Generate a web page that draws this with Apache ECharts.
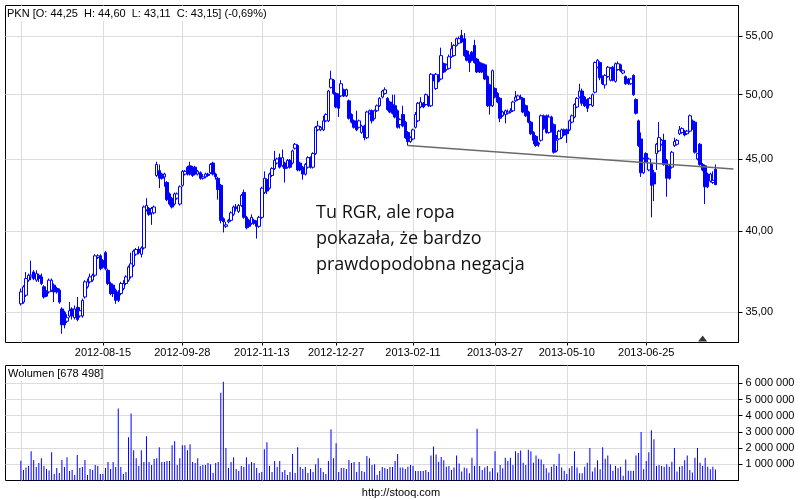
<!DOCTYPE html>
<html>
<head>
<meta charset="utf-8">
<script src="https://cdn.jsdelivr.net/npm/echarts@6/dist/echarts.min.js"></script>
<style>html,body{margin:0;padding:0;background:#fff}#c{width:800px;height:500px}</style>
</head>
<body>
<div id="c"></div>
<script>
// ---- categories: trading days of the Warsaw exchange shown on the axis ----
const axisFrom = '2012-06-22';
const axisTo = '2013-08-14';
const firstDataDate = '2012-07-02';
const holidays = ['2012-08-15','2012-11-01','2012-12-24','2012-12-25','2012-12-26','2012-12-31',
  '2013-01-01','2013-03-29','2013-04-01','2013-05-01','2013-05-03','2013-05-30'];

// ---- tick labels ----
const xTickLabels = ['2012-08-15','2012-09-28','2012-11-13','2012-12-27','2013-02-11','2013-03-27','2013-05-10','2013-06-25'];
const xGridOnly = ['2012-07-02'];
const priceTicks = [35, 40, 45, 50, 55];
const volumeTicks = [1, 2, 3, 4, 5, 6]; // millions

// ---- PKN daily candles [open, high, low, close] from 2012-07-02 ----
const ohlc = [
[35.5,36.4,35.4,36.2],[35.6,36.6,35.5,36.5],[36.0,37.4,35.9,37.0],[36.9,37.3,36.8,37.2],[37.1,38.1,36.9,37.2],
[37.4,37.5,36.9,37.0],[36.9,37.5,36.8,37.3],[37.2,37.3,36.8,37.0],[37.1,37.3,36.6,36.7],[36.5,36.6,35.8,35.9],
[36.2,36.3,35.9,35.95],[36.2,37.0,36.1,36.9],[36.3,37.0,36.2,36.9],[36.6,36.7,35.6,36.2],[36.4,36.5,36.1,36.2],
[36.3,36.4,35.5,35.6],[35.2,35.3,33.8,34.3],[35.0,35.1,34.1,34.3],[34.5,34.9,34.4,34.7],[34.8,35.6,34.7,35.1],
[35.2,35.3,34.6,34.8],[34.7,35.4,34.6,35.2],[35.3,35.9,34.5,34.6],[34.8,35.3,34.7,35.1],[34.8,35.8,34.7,35.7],
[35.9,36.9,35.8,36.8],[36.5,37.0,36.4,36.8],[36.8,37.3,36.7,37.1],[36.9,37.3,36.8,37.2],[37.2,38.5,37.1,38.4],
[38.3,38.5,38.2,38.4],[38.4,38.5,37.5,37.6],[38.1,38.2,37.6,37.7],[38.6,38.7,37.5,37.6],[37.5,37.6,36.6,36.7],
[36.7,36.8,36.0,36.1],[36.6,36.7,35.9,36.1],[36.3,36.4,35.5,35.7],[36.2,36.3,35.6,35.7],[36.1,36.8,36.0,36.7],
[36.4,36.9,36.3,36.7],[36.7,37.2,36.6,37.1],[36.9,37.8,36.8,37.7],[37.1,38.6,37.0,37.9],[37.8,38.8,37.7,38.7],
[38.5,38.9,38.4,38.8],[38.8,39.0,38.5,38.6],[38.5,39.0,38.3,38.9],[38.9,41.7,38.8,41.6],[41.4,42.2,41.3,41.7],
[41.5,41.6,41.0,41.1],[41.2,41.6,40.4,41.5],[41.2,41.7,41.1,41.6],[43.8,44.8,43.7,44.6],[44.15,44.6,42.9,43.6],
[43.9,44.0,43.5,43.6],[43.7,44.0,43.0,43.9],[43.3,43.4,42.0,42.1],[42.5,42.6,41.7,41.8],[42.2,42.3,41.5,41.6],
[41.8,42.6,41.7,42.5],[42.2,42.6,42.1,42.5],[41.8,43.1,41.7,43.0],[43.1,44.2,43.0,44.1],[43.9,44.2,43.8,44.1],
[44.4,44.5,43.8,43.9],[44.5,44.8,43.8,43.9],[44.4,44.5,43.7,43.8],[44.4,44.5,43.8,43.9],[43.9,44.2,43.8,44.1],
[44.0,44.1,43.5,43.6],[43.6,43.9,43.5,43.7],[43.7,44.0,43.6,43.9],[43.9,44.0,43.7,43.8],[44.0,44.7,43.9,44.6],
[44.7,44.8,43.8,43.9],[43.9,44.0,43.5,43.7],[43.6,43.7,42.1,42.8],[43.1,43.2,40.5,40.7],[40.8,40.9,39.9,40.6],
[40.3,40.6,40.2,40.4],[40.6,40.8,40.5,40.7],[40.7,41.3,40.6,41.2],[41.1,41.7,41.0,41.6],[41.6,41.8,41.3,41.5],
[41.3,41.8,41.2,41.7],[41.7,42.5,41.6,42.4],[42.6,42.8,40.8,40.9],[40.9,41.0,40.1,40.2],[40.7,40.8,40.2,40.3],
[40.5,41.1,40.4,40.9],[40.7,40.8,40.4,40.5],[40.6,40.7,39.5,40.3],[40.3,41.0,40.2,40.9],[40.9,43.0,40.8,42.9],
[42.6,44.1,42.5,43.6],[43.5,43.6,42.5,42.7],[42.9,44.0,42.8,43.9],[43.8,44.4,43.7,44.3],[44.3,45.6,44.2,44.9],
[44.7,45.1,44.6,45.0],[45.1,45.4,44.3,44.4],[44.5,45.7,44.4,45.1],[44.7,44.8,43.3,44.3],[44.4,45.0,44.3,44.9],
[44.9,45.0,44.3,44.4],[44.7,45.7,44.6,45.6],[45.8,46.2,45.7,46.1],[46.0,46.1,44.1,44.2],[44.7,44.8,44.1,44.2],
[44.4,44.5,43.5,43.9],[43.9,44.7,43.8,44.6],[44.4,45.2,44.3,45.1],[45.1,45.2,44.3,44.4],[44.4,45.5,44.3,45.4],
[45.4,47.5,45.3,47.4],[47.2,47.9,47.1,47.5],[47.2,47.5,47.1,47.4],[47.2,48.3,47.1,47.9],[47.9,48.5,47.8,48.4],
[47.9,50.4,47.8,50.3],[50.6,52.0,50.5,51.3],[51.2,51.3,50.0,50.1],[50.1,50.2,48.9,49.0],[50.0,50.1,48.2,48.9],
[49.9,51.2,49.8,50.9],[50.4,50.5,49.8,49.9],[49.9,50.5,49.8,50.4],[49.5,49.6,48.0,48.1],[48.4,48.5,47.7,47.8],
[47.9,48.0,47.3,47.4],[47.8,48.7,47.1,47.2],[47.4,48.0,47.3,47.9],[47.0,47.6,46.9,47.5],[47.5,47.6,46.4,46.6],
[46.6,48.7,46.5,48.6],[48.5,48.8,48.4,48.7],[48.7,48.8,47.7,47.9],[48.1,48.8,48.0,48.7],[48.7,49.2,48.6,49.1],
[49.1,49.8,49.0,49.7],[49.8,50.4,49.7,50.3],[50.1,50.6,50.0,50.4],[49.7,49.8,48.7,48.8],[49.4,49.5,48.5,48.6],
[49.2,50.0,48.4,48.5],[49.1,50.0,48.1,48.2],[48.7,48.8,47.3,47.4],[47.6,48.1,47.3,48.0],[48.4,49.1,47.4,47.5],
[47.8,47.9,46.5,46.6],[47.0,47.1,46.0,46.3],[46.3,46.7,46.2,46.6],[46.5,47.3,46.4,47.2],[47.4,48.6,47.3,48.4],
[47.9,49.4,47.8,49.3],[49.0,49.8,48.9,49.4],[49.3,49.4,48.9,49.0],[49.2,50.1,49.1,50.0],[49.8,49.9,49.0,49.1],
[49.1,51.8,49.0,51.7],[51.6,51.7,51.1,51.2],[50.5,51.8,50.4,51.7],[51.6,51.7,51.0,51.1],[51.3,54.0,51.2,53.3],
[52.6,52.7,51.8,51.9],[52.1,52.6,52.0,52.5],[52.2,53.4,52.1,53.2],[53.2,54.5,53.1,53.9],[53.3,54.3,53.2,54.2],
[54.2,54.9,54.1,54.8],[54.4,55.0,54.3,54.8],[55.1,55.6,54.4,54.5],[54.8,55.3,53.2,53.3],[53.7,53.8,52.8,52.9],
[53.3,53.4,51.9,52.7],[53.6,53.7,52.8,52.9],[54.2,54.7,52.6,52.7],[53.0,53.1,51.8,51.9],[52.7,52.8,51.8,51.9],
[52.6,52.7,51.8,51.9],[52.5,52.6,51.2,51.3],[51.5,51.6,49.0,49.1],[50.8,50.9,48.4,49.1],[49.1,52.1,49.0,52.0],
[50.5,50.6,49.7,49.8],[50.1,50.2,49.3,49.4],[49.7,49.8,47.8,48.1],[48.3,48.7,48.2,48.6],[48.4,48.8,47.7,48.7],
[48.5,48.8,48.4,48.6],[48.6,48.9,48.5,48.7],[48.7,49.5,48.6,49.4],[49.5,50.3,49.4,49.8],[49.6,50.0,49.5,49.9],
[49.8,50.0,49.6,49.7],[49.7,49.8,48.5,48.6],[49.1,49.2,48.2,48.3],[48.6,48.7,47.7,47.8],[47.8,47.9,46.8,46.9],
[47.0,47.1,46.1,46.4],[46.7,46.8,45.9,46.0],[46.2,46.3,45.9,46.1],[46.4,48.4,46.3,48.3],[48.3,48.4,47.2,47.3],
[48.3,48.4,46.9,47.0],[47.0,48.4,46.9,48.2],[48.2,48.3,47.0,47.1],[47.6,47.7,45.4,45.5],[45.6,46.8,45.5,46.4],
[46.5,47.2,46.4,47.1],[46.6,47.3,46.5,47.2],[47.2,47.3,46.7,46.8],[47.2,47.3,46.2,46.9],[47.2,48.0,47.1,47.9],
[47.8,48.4,47.7,48.3],[48.2,49.3,48.1,49.2],[49.0,49.8,48.9,49.7],[49.8,50.9,49.7,50.3],[50.3,50.5,49.1,49.3],
[49.8,49.9,49.0,49.1],[49.6,49.7,48.6,48.9],[49.2,49.8,49.1,49.7],[49.1,50.1,49.0,50.0],[50.2,52.8,50.1,52.7],
[52.3,53.0,52.2,52.9],[52.7,52.8,51.2,51.4],[51.5,51.6,50.8,50.9],[50.8,51.7,50.5,51.6],[51.5,52.4,51.4,52.3],
[51.2,52.3,51.1,52.2],[52.3,52.4,51.1,51.2],[51.1,52.7,51.0,52.6],[52.1,52.8,52.0,52.6],[52.5,52.6,51.9,52.0],
[51.8,52.1,51.7,52.0],[51.5,51.6,50.8,50.9],[51.3,51.4,50.8,50.9],[50.9,51.4,50.8,51.3],[51.6,51.7,49.9,50.0],
[49.6,49.7,48.4,48.5],[47.9,48.0,45.9,46.0],[46.5,47.0,43.7,44.0],[44.0,45.1,43.9,45.0],[45.4,45.5,44.7,44.8],
[44.2,45.1,44.1,45.0],[44.6,44.7,40.9,43.1],[44.0,44.2,42.0,43.2],[45.4,46.2,44.2,46.1],[45.6,47.8,45.5,46.6],
[46.1,46.5,46.0,46.4],[46.4,46.9,44.5,44.6],[44.9,45.0,42.3,43.6],[44.5,44.6,43.5,43.6],[44.4,45.6,44.3,45.5],
[46.0,46.6,45.9,46.3],[46.1,46.5,46.0,46.4],[46.9,47.5,46.8,47.2],[47.0,47.4,46.9,47.3],[47.1,47.2,46.7,46.8],
[46.9,47.2,46.8,47.1],[47.1,48.4,47.0,48.3],[47.9,48.0,47.2,47.3],[47.8,47.9,45.4,45.5],[45.0,45.4,44.9,45.4],
[46.1,46.2,44.5,44.6],[44.6,44.7,44.1,44.2],[44.5,44.6,41.8,43.0],[43.9,44.0,42.9,43.0],[43.4,44.0,43.3,43.9],
[43.3,44.1,43.2,43.45],[44.25,44.60,43.11,43.15]
];

// ---- daily volume, millions of shares, from 2012-07-02 ----
const volumeM = [
1.22,0.65,0.8,0.9,1.8,1.26,0.83,1.08,1.38,0.9, 0.71,0.61,1.75,0.4,0.77,0.47,1.26,0.83,1.44,0.59,
0.65,0.34,1.57,0.77,0.83,1.26,0.34,0.71,0.65,0.96, 0.9,0.4,0.4,0.77,1.14,0.71,1.14,0.83,4.44,0.83,
0.4,0.53,2.67,4.14,1.87,1.38,0.9,1.87,1.14,2.73, 1.14,0.96,1.32,1.38,2.06,1.14,1.14,1.2,1.2,2.18,
2.42,0.96,1.38,2.18,2.18,1.87,2.24,1.14,1.08,1.38, 0.9,0.96,0.96,1.08,1.01,0.47,1.08,1.14,5.42,6.1,
2.0,0.77,1.14,1.44,0.71,0.59,0.9,0.83,1.44,1.01, 1.14,1.08,0.77,0.47,0.53,1.93,2.36,0.9,0.53,1.2,
0.83,1.2,0.53,0.65,0.34,0.53,1.63,0.47,2.06,0.83, 0.71,0.83,0.47,0.71,0.53,1.01,1.38,0.77,0.53,0.4,
1.2,3.16,1.38,2.3,0.53,0.77,0.77,0.71,1.26,1.08, 1.14,0.53,1.14,0.59,0.53,1.51,1.38,0.96,1.01,0.34,
0.59,0.83,0.77,0.71,0.83,0.83,1.2,1.63,
0.81,0.81,0.71,0.85,0.96,0.9,0.59,0.59,0.59,0.59, 0.65,0.53,
1.55,2.1,1.6,1.15,1.45,1.25,0.85,0.9,0.65,0.8, 1.55,1.05,0.55,0.8,0.75,0.45,1.4,0.9,3.2,0.9,
0.65,0.8,0.9,0.55,0.75,1.8,0.5,0.95,0.75,1.4, 1.2,1.4,0.95,1.8,1.7,1.85,1.1,0.95,1.9,1.8,
1.1,1.55,1.35,1.3,1.0,0.75,0.5,0.85,1.0,0.9, 1.65,0.8,0.6,0.4,0.75,0.9,1.8,0.8,0.45,0.45,
0.85,1.1,2.0,0.55,0.8,1.25,0.7,2.05,1.35,1.55, 1.0,0.6,0.9,0.75,0.85,0.3,1.3,0.6,0.6,0.6,
1.55,1.7,3.0,0.7,1.2,1.75,3.1,2.55,0.9,0.95, 0.9,0.85,1.0,0.85,1.15,2.0,0.55,0.85,0.9,1.25,
1.55,0.65,0.5,1.4,2.0,1.1,0.9,1.4,0.85,0.7, 0.85,0.678498
];

// ---- support line and event marker ----
const trendLine = [['2013-02-07', 46.0], ['2013-08-12', 44.27]];
const eventMarkers = ['2013-07-25'];

// ---- texts ----
const headerText = 'PKN [O: 44,25  H: 44,60  L: 43,11  C: 43,15] (-0,69%)';
const volumeText = 'Wolumen [678 498]';
const noteText = 'Tu RGR, ale ropa\npokazała, że bardzo\nprawdopodobna negacja';
const footerText = 'http://stooq.com';

// ---------------------------------------------------------------------
function tradingDays(from, to) {
  const out = [];
  const d = new Date(from + 'T00:00:00Z');
  const end = new Date(to + 'T00:00:00Z');
  while (d <= end) {
    const wd = d.getUTCDay();
    const s = d.toISOString().slice(0, 10);
    if (wd !== 0 && wd !== 6 && holidays.indexOf(s) < 0) out.push(s);
    d.setUTCDate(d.getUTCDate() + 1);
  }
  return out;
}
const dates = tradingDays(axisFrom, axisTo);
const first = dates.indexOf(firstDataDate);
function catIndexFor(dateStr) {
  for (let k = 0; k < dates.length; k++) if (dates[k] >= dateStr) return k;
  return dates.length - 1;
}
const labelAt = {};
xTickLabels.forEach(t => { labelAt[catIndexFor(t)] = t; });
const gridAt = Object.assign({}, labelAt);
xGridOnly.forEach(t => { gridAt[catIndexFor(t)] = t; });

const candleData = dates.map((d, k) => {
  const i = k - first;
  if (i < 0 || i >= ohlc.length) return '-';
  const r = ohlc[i];
  return [r[0], r[3], r[2], r[1]];
});
const volData = dates.map((d, k) => {
  const i = k - first;
  return (i < 0 || i >= volumeM.length) ? '-' : volumeM[i];
});
const trendData = trendLine.map(p => [catIndexFor(p[0]), p[1]]);
const yMin = 33.32, yMax = 57.86;
const eventData = eventMarkers.map(d => [catIndexFor(d), yMin]);

const FONT = 'Liberation Sans, Arial, sans-serif';
const fmtVol = v => String(Math.round(v * 1000000)).replace(/\B(?=(\d{3})+(?!\d))/g, ' ');

const chart = echarts.init(document.getElementById('c'), null, { renderer: 'canvas' });
chart.setOption({
  animation: false,
  backgroundColor: '#fff',
  grid: [
    { left: 5.5, top: 5.5, width: 733, height: 337, show: true, borderColor: '#000', borderWidth: 1, backgroundColor: '#fff' },
    { left: 5.5, top: 365.5, width: 733, height: 115, show: true, borderColor: '#000', borderWidth: 1, backgroundColor: '#fff' }
  ],
  xAxis: [
    {
      type: 'category', gridIndex: 0, data: dates, boundaryGap: false,
      axisLine: { show: false },
      axisTick: { show: true, length: 3, interval: (i) => labelAt[i] !== undefined, lineStyle: { color: '#000' } },
      axisLabel: { show: true, interval: (i) => labelAt[i] !== undefined, formatter: (v, i) => labelAt[i] || '',
        margin: 5, color: '#000', fontSize: 11, fontFamily: FONT },
      splitLine: { show: true, interval: (i) => gridAt[i] !== undefined, lineStyle: { color: '#dcdcdc', width: 1 } }
    },
    {
      type: 'category', gridIndex: 1, data: dates, boundaryGap: false,
      axisLine: { show: false }, axisTick: { show: false }, axisLabel: { show: false },
      splitLine: { show: true, interval: (i) => gridAt[i] !== undefined, lineStyle: { color: '#dcdcdc', width: 1 } }
    }
  ],
  yAxis: [
    {
      type: 'log', logBase: 10, gridIndex: 0, position: 'right', min: yMin, max: yMax,
      axisLine: { show: true, lineStyle: { color: '#000' } },
      axisTick: { show: true, length: 4, customValues: priceTicks, lineStyle: { color: '#000' } },
      axisLabel: { customValues: priceTicks, formatter: v => Number(v).toFixed(2).replace('.', ','),
        margin: 7, color: '#000', fontSize: 11, fontFamily: FONT },
      splitLine: { show: true, lineStyle: { color: '#dcdcdc', width: 1 } }
    },
    {
      type: 'value', gridIndex: 1, position: 'right', min: 0, max: 7.1,
      axisLine: { show: true, lineStyle: { color: '#000' } },
      axisTick: { show: true, length: 4, customValues: volumeTicks, lineStyle: { color: '#000' } },
      axisLabel: { customValues: volumeTicks, formatter: fmtVol, margin: 7, color: '#000', fontSize: 11, fontFamily: FONT },
      splitLine: { show: true, lineStyle: { color: '#dcdcdc', width: 1 } }
    }
  ],
  series: [
    {
      type: 'candlestick', xAxisIndex: 0, yAxisIndex: 0, data: candleData, barWidth: 3,
      itemStyle: { color: '#ffffff', color0: '#0000ff', borderColor: '#0000ff', borderColor0: '#0000ff', borderWidth: 1 }
    },
    {
      type: 'line', xAxisIndex: 0, yAxisIndex: 0, data: trendData, symbol: 'none', z: 3,
      lineStyle: { color: '#6a6a6a', width: 1.5 }
    },
    {
      type: 'scatter', xAxisIndex: 0, yAxisIndex: 0, data: eventData, symbol: 'triangle',
      symbolSize: [9, 6], symbolOffset: [0, -4], itemStyle: { color: '#000' }, z: 4
    },
    {
      type: 'bar', xAxisIndex: 1, yAxisIndex: 1, data: volData, barWidth: 1,
      itemStyle: { color: '#0000ff' }
    }
  ],
  graphic: [
    { type: 'rect', z: 100, shape: { x: 6, y: 6, width: 258, height: 15 }, style: { fill: '#fff' } },
    { type: 'text', z: 101, style: { x: 7, y: 8, text: headerText, fill: '#000', font: '11px ' + FONT, textVerticalAlign: 'top' } },
    { type: 'rect', z: 100, shape: { x: 6, y: 366, width: 96, height: 15 }, style: { fill: '#fff' } },
    { type: 'text', z: 101, style: { x: 8, y: 368, text: volumeText, fill: '#000', font: '11px ' + FONT, textVerticalAlign: 'top' } },
    { type: 'text', z: 101, style: { x: 401, y: 493, text: footerText, fill: '#000', font: '11px ' + FONT, textAlign: 'center', textVerticalAlign: 'middle' } },
    { type: 'text', z: 101, style: { x: 316, y: 200, text: noteText, fill: '#111', font: '18px "Open Sans", sans-serif', lineHeight: 26, textVerticalAlign: 'top' } }
  ]
});
</script>
</body>
</html>
